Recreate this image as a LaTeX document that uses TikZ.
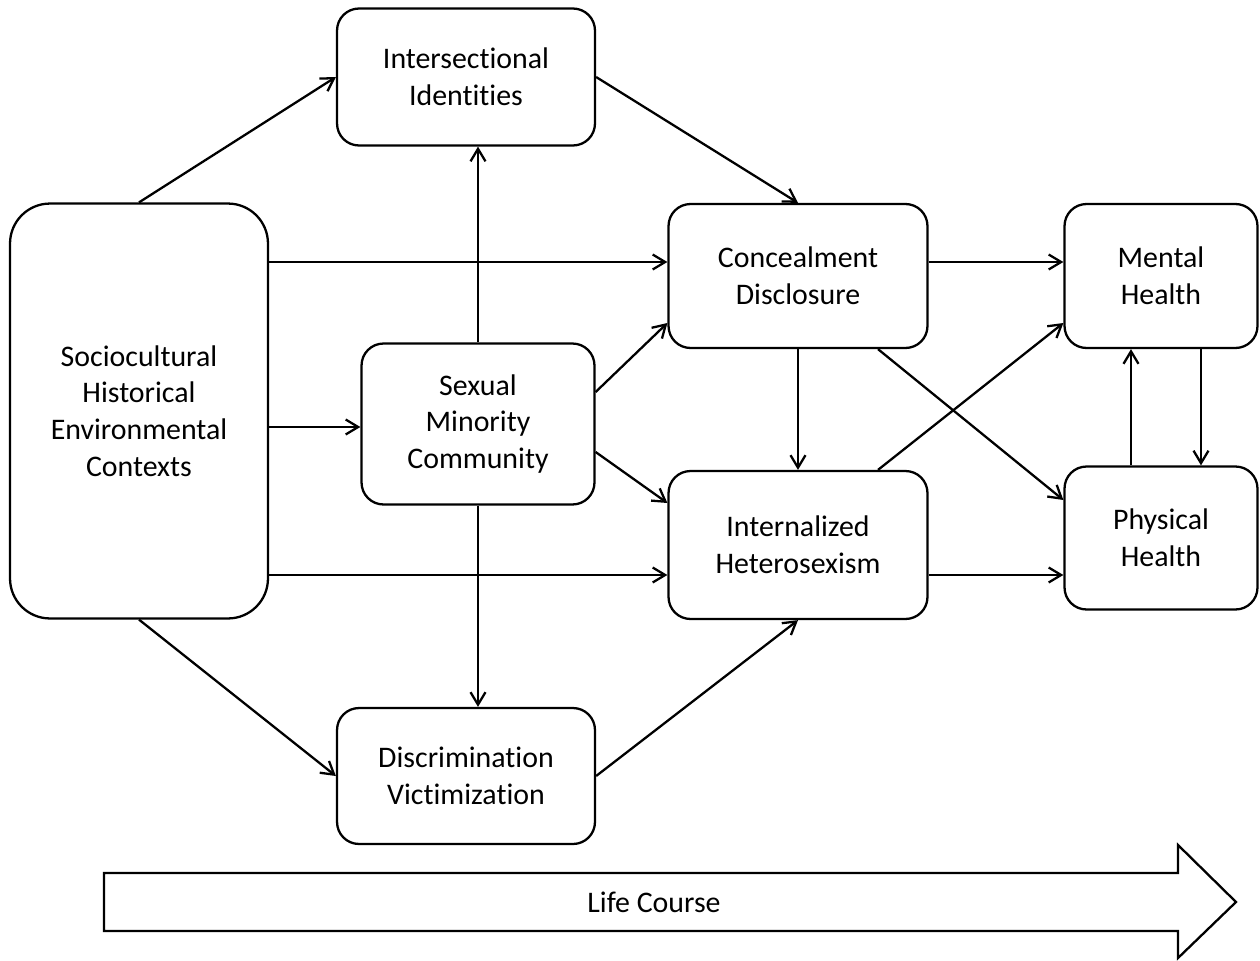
\documentclass[tikz,border=0pt]{standalone}
\usepackage{fontspec}
\setmainfont{Carlito}[Ligatures=NoCommon]
\usepackage{tikz}
\usetikzlibrary{arrows.meta}

\tikzset{
  box/.style={draw, line width=1.3pt, rounded corners=0.44cm, align=center, inner sep=0pt,
    font=\fontsize{17}{20.8}\selectfont},
  link/.style={->, line width=1.3pt},
  >={Straight Barb[length=2.5mm, width=3mm]}
}

\begin{document}
\begin{tikzpicture}[x=0.02cm, y=-0.02cm]
  \useasboundingbox (0,0) rectangle (1260,960);

  \node[box, rounded corners=0.8cm, minimum width=5.16cm, minimum height=8.3cm] (socio) at (139,411)
    {Sociocultural\\Historical\\Environmental\\Contexts};
  \node[box, minimum width=5.16cm, minimum height=2.74cm] (inter) at (466,77) {Intersectional\\Identities};
  \node[box, minimum width=4.66cm, minimum height=3.22cm] (smc) at (478,424) {Sexual\\Minority\\Community};
  \node[box, minimum width=5.16cm, minimum height=2.72cm] (disc) at (466,776) {Discrimination\\Victimization};
  \node[box, minimum width=5.18cm, minimum height=2.88cm] (conc) at (798,276) {Concealment\\Disclosure};
  \node[box, minimum width=5.18cm, minimum height=2.96cm] (intern) at (798,545) {Internalized\\Heterosexism};
  \node[box, minimum width=3.86cm, minimum height=2.88cm] (mental) at (1161,276) {Mental\\Health};
  \node[box, minimum width=3.86cm, minimum height=2.86cm] (phys) at (1161,538) {Physical\\Health};

  \draw[link] (socio.north) -- (inter.west);
  \draw[link] (inter.east) -- (conc.north);
  \draw[link] (socio.east |- 0,262) -- (conc.west |- 0,262);
  \draw[link] (socio.east |- 0,427) -- (smc.west |- 0,427);
  \draw[link] (socio.east |- 0,575) -- (intern.west |- 0,575);
  \draw[link] (socio.south) -- (disc.west);
  \draw[link] (smc.north) -- (smc.north |- inter.south);
  \draw[link] (smc.south) -- (smc.south |- disc.north);
  \draw[link] (smc.east |- 0,392) -- (conc.west |- 0,323);
  \draw[link] (smc.east |- 0,452) -- (intern.west |- 0,503);
  \draw[link] (disc.east) -- (intern.south);
  \draw[link] (conc.south) -- (intern.north);
  \draw[link] (conc.east |- 0,262) -- (mental.west |- 0,262);
  \draw[link] (conc.south -| 878,0) -- (phys.west |- 0,500);
  \draw[link] (intern.north -| 878,0) -- (mental.west |- 0,323);
  \draw[link] (intern.east |- 0,575) -- (phys.west |- 0,575);
  \draw[link] (phys.north -| 1131,0) -- (mental.south -| 1131,0);
  \draw[link] (mental.south -| 1201,0) -- (phys.north -| 1201,0);

  \draw[line width=1.3pt, line join=miter] (104,873) -- (1178,873) -- (1178,845) -- (1236,902)
    -- (1178,958) -- (1178,931) -- (104,931) -- cycle;
  \node[font=\fontsize{17}{20.4}\selectfont] (life) at (654,902) {Life Course};
\end{tikzpicture}
\end{document}
